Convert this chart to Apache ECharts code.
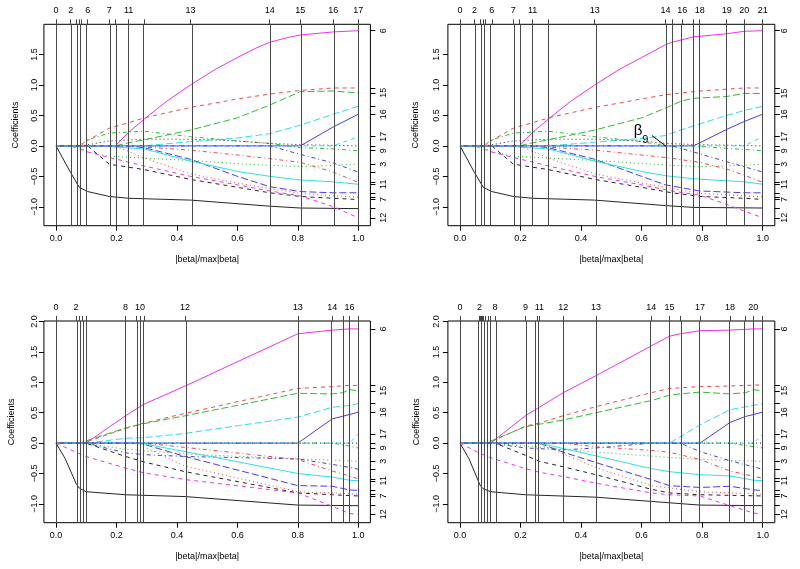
<!DOCTYPE html>
<html><head><meta charset="utf-8">
<script src="https://cdn.jsdelivr.net/npm/echarts@6/dist/echarts.min.js"></script>
<style>html,body{margin:0;padding:0;background:#fff}#c{width:800px;height:569px}</style>
</head><body><div id="c"></div>
<script>
// ---------------- DATA ----------------
const xTicks = [0, 0.2, 0.4, 0.6, 0.8, 1.0];
const yTicksTop = [-1.0, -0.5, 0.0, 0.5, 1.0, 1.5];
const yTicksBottom = [-1.0, -0.5, 0.0, 0.5, 1.0, 1.5, 2.0];
const rightLabelVars = [6, 15, 16, 17, 9, 3, 11, 7, 12];

// panel 1 (top-left)
const p1Steps = [0, 0.0485, 0.068, 0.077, 0.084, 0.105, 0.176, 0.196, 0.240, 0.292, 0.445, 0.707, 0.808, 0.917, 1.0];
const p1TopPos = [0, 0.0485, 0.105, 0.176, 0.240, 0.445, 0.707, 0.808, 0.917, 1.0];
const p1TopLab = ['0', '2', '6', '7', '11', '13', '14', '15', '16', '17'];
const p1Paths = [
  [[0,0],[0.0485,-0.44],[0.077,-0.68],[0.105,-0.75],[0.176,-0.83],[0.24,-0.86],[0.445,-0.89],[0.707,-0.99],[0.808,-1.02],[1.0,-1.03]],
  [[0,0],[0.084,0],[0.105,0.09],[0.176,0.29],[0.24,0.38],[0.292,0.46],[0.445,0.63],[0.6,0.77],[0.707,0.85],[0.808,0.91],[0.917,0.95],[1.0,0.95]],
  [[0,0],[0.068,0],[0.105,-0.1],[0.176,-0.17],[0.292,-0.2],[0.445,-0.24],[0.6,-0.29],[0.707,-0.32],[0.808,-0.34],[0.917,-0.32],[1.0,-0.30]],
  [[0,0],[0.707,0],[0.808,-0.14],[0.917,-0.28],[1.0,-0.43]],
  [[0,0],[0.292,0],[0.445,0.07],[0.6,0.13],[0.707,0.2],[0.808,0.34],[0.917,0.52],[1.0,0.65]],
  [[0,0],[0.196,0],[0.24,0.22],[0.292,0.44],[0.368,0.74],[0.445,1.0],[0.525,1.25],[0.6,1.45],[0.66,1.6],[0.707,1.70],[0.76,1.77],[0.808,1.82],[0.917,1.87],[1.0,1.89]],
  [[0,0],[0.105,0],[0.176,-0.3],[0.292,-0.39],[0.445,-0.55],[0.6,-0.68],[0.707,-0.77],[0.808,-0.83],[0.917,-0.86],[1.0,-0.88]],
  [[0,0],[0.196,0],[0.292,-0.2],[0.445,-0.46],[0.6,-0.61],[0.707,-0.7],[0.808,-0.78],[0.917,-0.82],[1.0,-0.84]],
  [[0,0],[0.077,0],[0.105,0.1],[0.176,0.21],[0.292,0.24],[0.445,0.15],[0.6,0.08],[0.707,0.04],[0.808,-0.03],[0.917,-0.05],[1.0,-0.08]],
  [[0,0],[0.24,0],[0.292,-0.03],[0.445,-0.22],[0.6,-0.5],[0.707,-0.67],[0.808,-0.75],[0.917,-0.77],[1.0,-0.77]],
  [[0,0],[0.176,0],[0.196,-0.02],[0.292,-0.05],[0.445,-0.25],[0.6,-0.42],[0.707,-0.5],[0.808,-0.56],[0.917,-0.59],[1.0,-0.63]],
  [[0,0],[0.0485,0],[0.105,-0.1],[0.176,-0.19],[0.292,-0.33],[0.445,-0.5],[0.6,-0.64],[0.707,-0.74],[0.808,-0.82],[0.917,-1.0],[1.0,-1.18]],
  [[0,0],[0.084,0],[0.176,0.08],[0.292,0.11],[0.445,0.11],[0.6,0.08],[0.707,0.04],[0.808,0.02],[1.0,0.0]],
  [[0,0],[0.24,0],[0.292,-0.02],[0.445,-0.07],[0.6,-0.15],[0.707,-0.21],[0.808,-0.27],[0.917,-0.43],[1.0,-0.6]],
  [[0,0],[0.196,0],[0.24,0.05],[0.292,0.1],[0.445,0.26],[0.6,0.46],[0.707,0.67],[0.808,0.89],[0.917,0.9],[1.0,0.87]],
  [[0,0],[0.808,0],[0.917,0.31],[1.0,0.52]],
  [[0,0],[0.917,0],[1.0,0.15]]
];

// panel 2 (top-right)
const p2Steps = [0, 0.048, 0.068, 0.077, 0.084, 0.105, 0.176, 0.196, 0.24, 0.292, 0.445, 0.679, 0.7, 0.734, 0.772, 0.792, 0.881, 0.939, 1.0];
const p2TopPos = [0, 0.048, 0.105, 0.176, 0.24, 0.445, 0.679, 0.734, 0.792, 0.881, 0.939, 1.0];
const p2TopLab = ['0', '2', '6', '7', '11', '13', '14', '16', '18', '19', '20', '21'];
const p2Paths = [
  [[0,0],[0.048,-0.44],[0.077,-0.68],[0.105,-0.75],[0.176,-0.83],[0.24,-0.86],[0.445,-0.89],[0.679,-0.98],[0.772,-1.01],[1.0,-1.02]],
  [[0,0],[0.084,0],[0.105,0.09],[0.176,0.29],[0.24,0.38],[0.292,0.46],[0.445,0.63],[0.6,0.77],[0.679,0.84],[0.792,0.9],[0.939,0.95],[1.0,0.95]],
  [[0,0],[0.068,0],[0.105,-0.1],[0.176,-0.17],[0.292,-0.2],[0.445,-0.24],[0.6,-0.29],[0.7,-0.32],[0.792,-0.34],[0.939,-0.32],[1.0,-0.30]],
  [[0,0],[0.7,0],[0.772,-0.1],[0.881,-0.26],[1.0,-0.43]],
  [[0,0],[0.292,0],[0.445,0.06],[0.6,0.12],[0.679,0.17],[0.7,0.21],[0.772,0.33],[0.881,0.5],[0.939,0.58],[1.0,0.65]],
  [[0,0],[0.196,0],[0.24,0.22],[0.292,0.44],[0.368,0.74],[0.445,1.0],[0.525,1.25],[0.6,1.45],[0.679,1.66],[0.7,1.7],[0.772,1.79],[0.881,1.84],[0.939,1.88],[1.0,1.89]],
  [[0,0],[0.105,0],[0.176,-0.3],[0.292,-0.39],[0.445,-0.55],[0.6,-0.68],[0.7,-0.77],[0.792,-0.83],[0.939,-0.86],[1.0,-0.88]],
  [[0,0],[0.196,0],[0.292,-0.2],[0.445,-0.46],[0.6,-0.61],[0.7,-0.7],[0.792,-0.78],[0.939,-0.82],[1.0,-0.84]],
  [[0,0],[0.077,0],[0.105,0.1],[0.176,0.21],[0.292,0.24],[0.445,0.15],[0.6,0.07],[0.679,0],[0.772,0],[0.881,-0.04],[0.939,-0.06],[1.0,-0.08]],
  [[0,0],[0.24,0],[0.292,-0.03],[0.445,-0.22],[0.6,-0.5],[0.679,-0.64],[0.792,-0.74],[0.939,-0.77],[1.0,-0.77]],
  [[0,0],[0.176,0],[0.196,-0.02],[0.292,-0.05],[0.445,-0.25],[0.6,-0.42],[0.679,-0.49],[0.772,-0.54],[0.939,-0.59],[1.0,-0.63]],
  [[0,0],[0.048,0],[0.105,-0.1],[0.176,-0.19],[0.292,-0.33],[0.445,-0.5],[0.6,-0.64],[0.7,-0.74],[0.792,-0.81],[0.881,-0.96],[0.939,-1.07],[1.0,-1.18]],
  [[0,0],[0.084,0],[0.176,0.08],[0.292,0.11],[0.445,0.11],[0.6,0.08],[0.679,0.04],[0.792,0.02],[1.0,0.0]],
  [[0,0],[0.24,0],[0.292,-0.02],[0.445,-0.07],[0.6,-0.15],[0.679,-0.19],[0.792,-0.27],[0.881,-0.38],[0.939,-0.48],[1.0,-0.6]],
  [[0,0],[0.196,0],[0.24,0.05],[0.292,0.1],[0.445,0.26],[0.6,0.46],[0.679,0.62],[0.734,0.74],[0.772,0.78],[0.881,0.81],[0.939,0.86],[1.0,0.86]],
  [[0,0],[0.772,0],[0.881,0.27],[0.939,0.4],[1.0,0.52]],
  [[0,0],[0.939,0],[1.0,0.15]]
];
const p2NoteText = 'β9';
const p2NoteAt = [0.598, 0.19];
const p2ArrowFrom = [0.634, 0.17];
const p2ArrowTo = [0.679, 0.0];

// panel 3 (bottom-left)
const p3Steps = [0, 0.002, 0.066, 0.077, 0.088, 0.099, 0.101, 0.23, 0.267, 0.278, 0.291, 0.427, 0.8, 0.914, 0.949, 0.971, 1.0];
const p3TopPos = [0, 0.066, 0.23, 0.278, 0.427, 0.8, 0.914, 0.971];
const p3TopLab = ['0', '2', '8', '10', '12', '13', '14', '16'];
const p3Paths = [
  [[0,0],[0.03,-0.25],[0.066,-0.66],[0.077,-0.74],[0.099,-0.8],[0.23,-0.85],[0.427,-0.88],[0.8,-1.02],[1.0,-1.03]],
  [[0,0],[0.088,0],[0.23,0.24],[0.291,0.33],[0.427,0.49],[0.8,0.9],[0.914,0.93],[0.971,0.95],[1.0,0.95]],
  [[0,0],[0.088,0],[0.23,-0.1],[0.427,-0.18],[0.8,-0.26],[0.914,-0.28],[1.0,-0.3]],
  [[0,0],[0.099,0],[0.23,-0.16],[0.291,-0.19],[0.427,-0.22],[0.8,-0.26],[0.914,-0.35],[0.971,-0.4],[1.0,-0.43]],
  [[0,0],[0.101,0],[0.23,0.08],[0.291,0.09],[0.427,0.16],[0.8,0.43],[0.914,0.59],[0.971,0.62],[1.0,0.65]],
  [[0,0],[0.099,0],[0.23,0.45],[0.291,0.64],[0.427,0.94],[0.8,1.8],[0.914,1.86],[0.971,1.88],[1.0,1.88]],
  [[0,0],[0.099,0],[0.23,-0.22],[0.291,-0.31],[0.427,-0.47],[0.8,-0.82],[0.914,-0.85],[1.0,-0.87]],
  [[0,0],[0.267,0],[0.427,-0.38],[0.8,-0.8],[0.914,-0.82],[1.0,-0.84]],
  [[0,0],[0.914,0],[0.949,-0.03],[0.971,-0.05],[1.0,-0.08]],
  [[0,0],[0.278,0],[0.427,-0.22],[0.8,-0.7],[0.914,-0.71],[0.971,-0.77],[1.0,-0.78]],
  [[0,0],[0.278,0],[0.427,-0.14],[0.8,-0.5],[0.914,-0.56],[0.971,-0.61],[1.0,-0.62]],
  [[0,0],[0.066,-0.15],[0.099,-0.22],[0.23,-0.41],[0.291,-0.49],[0.427,-0.6],[0.8,-0.82],[0.914,-1.04],[0.971,-1.16],[1.0,-1.17]],
  [[0,0],[1.0,0]],
  [[0,0],[0.291,0],[0.427,-0.07],[0.8,-0.27],[0.914,-0.46],[0.971,-0.54],[1.0,-0.59]],
  [[0,0],[0.077,0],[0.23,0.25],[0.291,0.32],[0.427,0.45],[0.8,0.82],[0.914,0.81],[0.949,0.83],[0.971,0.88],[1.0,0.86]],
  [[0,0],[0.8,0],[0.914,0.4],[0.971,0.47],[1.0,0.51]],
  [[0,0],[0.971,0],[1.0,0.15]]
];

// panel 4 (bottom-right)
const p4Steps = [0, 0.002, 0.064, 0.067, 0.07, 0.073, 0.076, 0.085, 0.094, 0.101, 0.116, 0.216, 0.254, 0.262, 0.341, 0.449, 0.632, 0.692, 0.728, 0.793, 0.892, 0.944, 0.969, 1.0];
const p4TopPos = [0, 0.064, 0.116, 0.216, 0.262, 0.341, 0.449, 0.632, 0.692, 0.793, 0.892, 0.969];
const p4TopLab = ['0', '2', '8', '9', '11', '12', '13', '14', '15', '17', '18', '20'];
const p4Paths = [
  [[0,0],[0.03,-0.26],[0.066,-0.69],[0.076,-0.75],[0.101,-0.8],[0.216,-0.85],[0.449,-0.89],[0.632,-0.96],[0.793,-1.02],[1.0,-1.03]],
  [[0,0],[0.094,0],[0.216,0.28],[0.262,0.33],[0.341,0.45],[0.449,0.6],[0.632,0.83],[0.692,0.9],[0.793,0.93],[0.892,0.94],[1.0,0.96]],
  [[0,0],[0.105,0],[0.449,-0.15],[0.793,-0.27],[1.0,-0.3]],
  [[0,0],[0.101,0],[0.216,-0.08],[0.341,-0.11],[0.449,-0.08],[0.632,0],[0.728,0],[0.793,-0.14],[0.892,-0.29],[1.0,-0.43]],
  [[0,0],[0.692,0],[0.793,0.3],[0.892,0.55],[0.969,0.62],[1.0,0.65]],
  [[0,0],[0.101,0],[0.216,0.45],[0.262,0.59],[0.341,0.83],[0.449,1.11],[0.632,1.6],[0.692,1.76],[0.728,1.8],[0.793,1.85],[0.892,1.86],[0.969,1.88],[1.0,1.88]],
  [[0,0],[0.116,0],[0.216,-0.2],[0.262,-0.3],[0.341,-0.39],[0.449,-0.52],[0.632,-0.76],[0.692,-0.82],[0.793,-0.85],[1.0,-0.87]],
  [[0,0],[0.254,0],[0.449,-0.4],[0.632,-0.7],[0.793,-0.8],[1.0,-0.84]],
  [[0,0],[0.892,0],[0.944,-0.04],[1.0,-0.08]],
  [[0,0],[0.262,0],[0.341,-0.15],[0.449,-0.32],[0.632,-0.6],[0.692,-0.7],[0.793,-0.73],[0.892,-0.71],[0.969,-0.77],[1.0,-0.78]],
  [[0,0],[0.262,0],[0.449,-0.21],[0.632,-0.42],[0.692,-0.47],[0.793,-0.52],[0.892,-0.54],[0.969,-0.61],[1.0,-0.62]],
  [[0,0],[0.066,-0.17],[0.101,-0.24],[0.216,-0.42],[0.262,-0.48],[0.341,-0.55],[0.449,-0.66],[0.632,-0.82],[0.692,-0.85],[0.793,-0.87],[0.892,-1.03],[0.969,-1.15],[1.0,-1.17]],
  [[0,0],[1.0,0]],
  [[0,0],[0.341,0],[0.449,-0.06],[0.632,-0.12],[0.692,-0.15],[0.793,-0.27],[0.892,-0.46],[1.0,-0.58]],
  [[0,0],[0.085,0],[0.216,0.27],[0.262,0.31],[0.341,0.38],[0.449,0.5],[0.632,0.7],[0.692,0.79],[0.728,0.81],[0.793,0.84],[0.892,0.81],[0.944,0.83],[0.969,0.88],[1.0,0.86]],
  [[0,0],[0.793,0],[0.892,0.34],[0.944,0.44],[0.969,0.47],[1.0,0.51]],
  [[0,0],[0.969,0],[1.0,0.15]]
];

// ---------------- STYLE / LAYOUT ----------------
const FONT = 'Liberation Sans, Arial, Helvetica, sans-serif';
const palette = ['#262626', '#EE4B4B', '#2EBE2E', '#4A3CEE', '#2EE2E2', '#F032F0'];   // R col 1:6
const dashes = ['solid', [4, 4], [1, 3], [1, 3, 4, 3], [7, 3]];                       // R lty 1:5
const layout = [
  {left: 43.9, top: 24.3, width: 326.5, height: 201.4, yMin: -1.31, yMax: 1.995, yTicks: yTicksTop, yLabMargin: 5, yNameGap: 24, rMargin: 9, zeroExt: 1.135},
  {left: 447.9, top: 24.3, width: 326.9, height: 201.4, yMin: -1.31, yMax: 1.995, yTicks: yTicksTop, yLabMargin: 7, yNameGap: 28, rMargin: 5, zeroExt: 1.075},
  {left: 43.9, top: 321, width: 326.5, height: 201.7, yMin: -1.31, yMax: 2.01, yTicks: yTicksBottom, yLabMargin: 5, yNameGap: 28, rMargin: 9, zeroExt: 1.135},
  {left: 447.9, top: 321, width: 326.9, height: 201.7, yMin: -1.31, yMax: 2.01, yTicks: yTicksBottom, yLabMargin: 7, yNameGap: 27, rMargin: 5, zeroExt: 1.075}
];
const panels = [
  {steps: p1Steps, topPos: p1TopPos, topLab: p1TopLab, paths: p1Paths},
  {steps: p2Steps, topPos: p2TopPos, topLab: p2TopLab, paths: p2Paths},
  {steps: p3Steps, topPos: p3TopPos, topLab: p3TopLab, paths: p3Paths},
  {steps: p4Steps, topPos: p4TopPos, topLab: p4TopLab, paths: p4Paths}
];

const fmtNum = v => (v < 0 ? '\u2212' : '') + Math.abs(v).toFixed(1);
const grids = [], xAxes = [], yAxes = [], series = [];
const txt = {color: '#000', fontFamily: FONT, fontSize: 9};
const noLine = {show: false, onZero: false};

panels.forEach((p, i) => {
  const L = layout[i];
  grids.push({left: L.left, top: L.top, width: L.width, height: L.height, show: true,
    borderColor: '#000', borderWidth: 1, backgroundColor: 'transparent', containLabel: false});
  // bottom x axis
  xAxes.push({gridIndex: i, type: 'value', position: 'bottom', min: -0.04, max: 1.04,
    name: '|beta|/max|beta|', nameLocation: 'middle', nameGap: 29.5, nameTextStyle: txt,
    axisLine: noLine, splitLine: {show: false},
    axisTick: {show: true, inside: false, length: 5, customValues: xTicks, lineStyle: {color: '#000'}},
    axisLabel: {show: true, margin: 8, customValues: xTicks, formatter: fmtNum, ...txt}});
  // top x axis (step numbers)
  xAxes.push({gridIndex: i, type: 'value', position: 'top', min: -0.04, max: 1.04,
    axisLine: noLine, splitLine: {show: false},
    axisTick: {show: true, inside: false, length: 5, customValues: p.steps, lineStyle: {color: '#444'}},
    axisLabel: {show: true, margin: 9, customValues: p.topPos,
      formatter: v => { const k = p.topPos.indexOf(v); return k >= 0 ? p.topLab[k] : ''; }, ...txt}});
  // left y axis
  yAxes.push({gridIndex: i, type: 'value', position: 'left', min: L.yMin, max: L.yMax,
    name: 'Coefficients', nameLocation: 'middle', nameGap: L.yNameGap, nameRotate: 90, nameTextStyle: txt,
    axisLine: noLine, splitLine: {show: false},
    axisTick: {show: true, inside: false, length: 5, customValues: L.yTicks, lineStyle: {color: '#000'}},
    axisLabel: {show: true, rotate: 90, margin: L.yLabMargin, customValues: L.yTicks, formatter: fmtNum, ...txt}});
  // right y axis (variable numbers at final coefficients)
  const finals = p.paths.map(d => d[d.length - 1][1]);
  const labVals = rightLabelVars.map(v => finals[v - 1]);
  yAxes.push({gridIndex: i, type: 'value', position: 'right', min: L.yMin, max: L.yMax,
    axisLine: noLine, splitLine: {show: false},
    axisTick: {show: true, inside: false, length: 5, customValues: finals, lineStyle: {color: '#000'}},
    axisLabel: {show: true, rotate: 90, margin: L.rMargin, customValues: labVals,
      formatter: v => { const k = labVals.indexOf(v); return k >= 0 ? String(rightLabelVars[k]) : ''; }, ...txt}});

  // vertical step lines + zero line
  series.push({type: 'line', xAxisIndex: 2 * i, yAxisIndex: 2 * i, data: [[0, 0]], symbol: 'none',
    lineStyle: {opacity: 0}, silent: true, animation: false, z: 1,
    markLine: {silent: true, symbol: 'none', animation: false, label: {show: false},
      lineStyle: {color: '#4a4a4a', width: 1, type: 'solid'},
      data: p.steps.map(s => ({xAxis: s})).concat([
        [{coord: [-0.04, 0], lineStyle: {color: '#777', type: [1, 3], width: 1}}, {coord: [L.zeroExt, 0]}]
      ])}});

  // coefficient paths
  p.paths.forEach((d, j) => {
    series.push({type: 'line', xAxisIndex: 2 * i, yAxisIndex: 2 * i, data: d, symbol: 'none', showSymbol: false,
      silent: true, animation: false, z: 3,
      lineStyle: {color: palette[j % 6], type: dashes[j % 5], width: 1}});
  });
});

// annotation on panel 2
series.push({type: 'line', xAxisIndex: 2, yAxisIndex: 2, data: [], symbol: 'none', silent: true, animation: false, z: 5,
  markLine: {silent: true, animation: false, symbol: ['none', 'arrow'], symbolSize: [0, 7],
    label: {show: false}, lineStyle: {color: '#000', width: 1, type: 'solid'},
    data: [[{coord: p2ArrowFrom}, {coord: p2ArrowTo}]]},
  markPoint: {silent: true, animation: false, symbol: 'circle', symbolSize: 0,
    label: {show: true, position: 'inside', formatter: '{b|' + p2NoteText[0] + '}{s|' + p2NoteText.slice(1) + '}',
      rich: {b: {fontFamily: FONT, fontSize: 15, color: '#000', lineHeight: 22, verticalAlign: 'top'},
             s: {fontFamily: FONT, fontSize: 11, color: '#000', lineHeight: 22, verticalAlign: 'bottom'}}},
    data: [{coord: p2NoteAt}]}});

const chart = echarts.init(document.getElementById('c'), null, {renderer: 'canvas'});
chart.setOption({animation: false, backgroundColor: '#fff', grid: grids, xAxis: xAxes, yAxis: yAxes, series: series});
</script></body></html>
